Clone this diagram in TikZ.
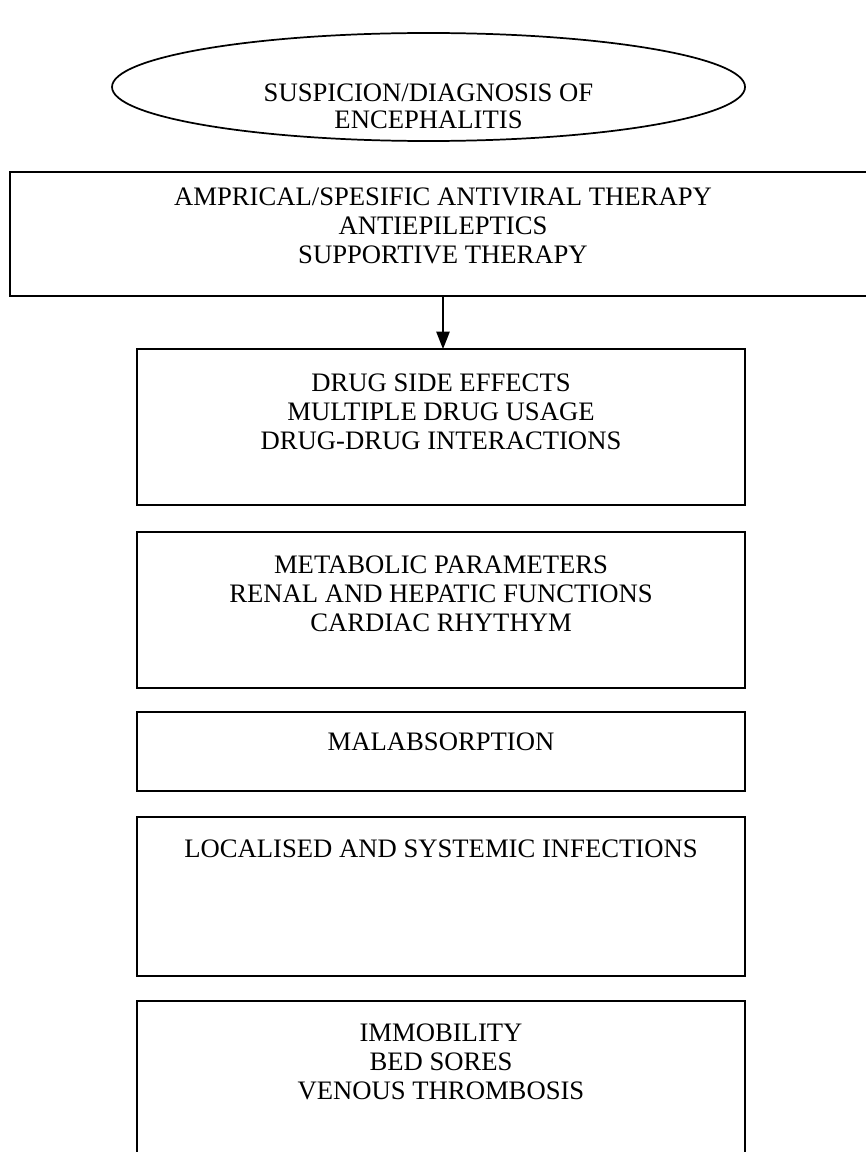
\documentclass[tikz,border=0pt]{standalone}
\usepackage{fontspec}
\setmainfont{Liberation Serif}
\usetikzlibrary{shapes.geometric,positioning,arrows.meta}

\newcommand{\steplines}[4][30.5pt]{\parbox[c][#2][t]{#3}{\centering\rule{0pt}{#1}#4\par}}

\begin{document}
\begin{tikzpicture}[stepbox/.style={draw, line width=1.4pt, inner sep=0pt, outer sep=0pt, anchor=north, font=\fontsize{20}{21.75}\selectfont}, startshape/.style={ellipse, draw, line width=1.3pt, minimum width=474.75pt, minimum height=81pt, inner sep=0pt, outer sep=0pt, font=\fontsize{20}{20.25}\selectfont}]

\useasboundingbox (0,0) rectangle (648.75pt,-864pt);

% START

\node [startshape] (suspicion) at (321.4pt,-65.25pt)
{\steplines[35.8pt]{50pt}{320pt}{SUSPICION/DIAGNOSIS OF\\ENCEPHALITIS}};

% THERAPY

\node [stepbox, below=23.25pt of suspicion, xshift=10.85pt] (therapy)
{\steplines[25pt]{93pt}{649.5pt}{AMPRICAL/SPESIFIC ANTIVIRAL THERAPY\\ANTIEPILEPTICS\\SUPPORTIVE THERAPY}};

% COMPLICATIONS

\node [stepbox, below=39.75pt of therapy, xshift=-1.5pt] (drugs)
{\steplines[31.5pt]{117pt}{456pt}{DRUG SIDE EFFECTS\\MULTIPLE DRUG USAGE\\DRUG-DRUG INTERACTIONS}};

\node [stepbox, below=20.25pt of drugs] (metabolic)
{\steplines[31pt]{117pt}{456pt}{METABOLIC PARAMETERS\\RENAL AND HEPATIC FUNCTIONS\\CARDIAC RHYTHYM}};

\node [stepbox, below=18pt of metabolic] (malabsorption)
{\steplines[29pt]{59.25pt}{456pt}{MALABSORPTION}};

\node [stepbox, below=19.5pt of malabsorption] (infections)
{\steplines[30pt]{119.25pt}{456pt}{LOCALISED AND SYSTEMIC INFECTIONS}};

\node [stepbox, below=18.75pt of infections] (immobility)
{\steplines[30pt]{131.25pt}{456pt}{IMMOBILITY\\BED SORES\\VENOUS THROMBOSIS}};

% ARROW

\draw [-{Triangle[length=13pt,width=10pt]}, line width=1.1pt] (therapy.south) -- (therapy.south |- drugs.north);

\end{tikzpicture}
\end{document}
